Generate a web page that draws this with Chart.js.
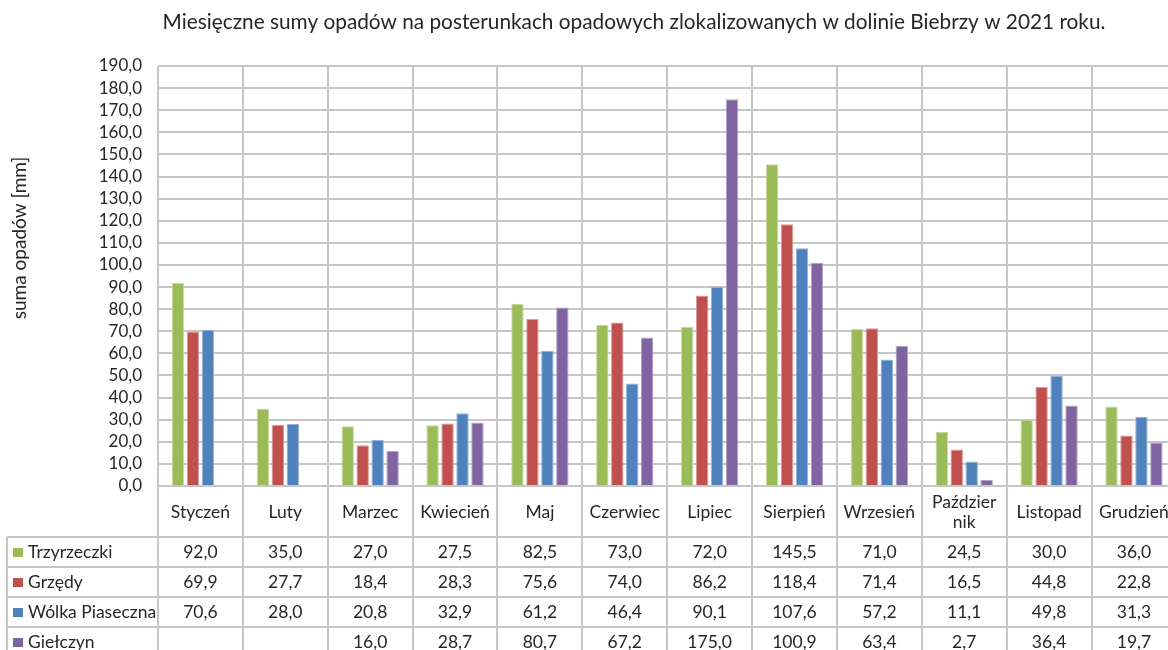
<!DOCTYPE html>
<html>
<head>
<meta charset="utf-8">
<script src="https://cdn.jsdelivr.net/npm/chart.js@4/dist/chart.umd.min.js"></script>
<style>
  html, body { margin: 0; padding: 0; overflow: hidden; background: #fff; }
  #wrap { width: 1185px; height: 650px; position: relative; }
</style>
</head>
<body>
<div id="wrap"><canvas id="c"></canvas></div>
<script>
// Monthly precipitation totals (mm), Biebrza valley gauges, 2021
const months = ['Styczeń', 'Luty', 'Marzec', 'Kwiecień', 'Maj', 'Czerwiec', 'Lipiec',
  'Sierpień', 'Wrzesień', ['Paździer', 'nik'], 'Listopad', 'Grudzień'];
const stations = ['Trzyrzeczki', 'Grzędy', 'Wólka Piaseczna', 'Giełczyn'];
const trzyrzeczki = [92.0, 35.0, 27.0, 27.5, 82.5, 73.0, 72.0, 145.5, 71.0, 24.5, 30.0, 36.0];
const grzedy      = [69.9, 27.7, 18.4, 28.3, 75.6, 74.0, 86.2, 118.4, 71.4, 16.5, 44.8, 22.8];
const wolka       = [70.6, 28.0, 20.8, 32.9, 61.2, 46.4, 90.1, 107.6, 57.2, 11.1, 49.8, 31.3];
const gielczyn    = [null, null, 16.0, 28.7, 80.7, 67.2, 175.0, 100.9, 63.4, 2.7, 36.4, 19.7];
const yTicks = { min: 0, max: 190, step: 10 };

const titleText = 'Miesięczne sumy opadów na posterunkach opadowych zlokalizowanych w dolinie Biebrzy w 2021 roku.';
const yTitleText = 'suma opadów [mm]';

const seriesValues = [trzyrzeczki, grzedy, wolka, gielczyn];
const seriesColors = ['#9BBB59', '#C0504D', '#4F81BD', '#8064A2'];
const seriesEdges  = ['#C9DBA6', '#DB9A98', '#97B3D9', '#B3A2C8'];

const FONT = 'Lato, "Open Sans", sans-serif';
const TEXT = '#262626';
const GRID = '#C6C6C6';

const fmt = v => (v === null || v === undefined) ? '' : v.toFixed(1).replace('.', ',');

// Title, vertical axis title and the data table under the plot
const tablePlugin = {
  id: 'dataTable',
  afterDraw(chart) {
    const { ctx, chartArea: a, scales: { x } } = chart;
    const H = chart.height;
    const labelRowBottom = a.bottom + 51;
    const rowH = 30;
    const tableLeft = 7;
    const n = months.length;
    const catW = (x.getPixelForValue(1) - x.getPixelForValue(0));
    ctx.save();

    // chart title
    ctx.fillStyle = TEXT;
    ctx.font = '20.8px ' + FONT;
    ctx.textAlign = 'center';
    ctx.textBaseline = 'middle';
    ctx.fillText(titleText, 634, 22);

    // vertical axis title
    ctx.save();
    ctx.translate(20, 238);
    ctx.rotate(-Math.PI / 2);
    ctx.font = '19px ' + FONT;
    ctx.fillText(yTitleText, 0, 0);
    ctx.restore();

    // grid of the table
    ctx.strokeStyle = GRID;
    ctx.lineWidth = 2;
    ctx.beginPath();
    for (let i = 0; i <= n; i++) {
      const px = Math.round(x.getPixelForValue(i) - catW / 2);
      ctx.moveTo(px, a.bottom);
      ctx.lineTo(px, H);
    }
    ctx.moveTo(tableLeft, labelRowBottom);
    ctx.lineTo(tableLeft, H);
    for (let r = 0; r < stations.length; r++) {
      const py = Math.round(labelRowBottom + r * rowH);
      ctx.moveTo(tableLeft, py);
      ctx.lineTo(a.right, py);
    }
    ctx.stroke();

    // rows: legend key, station name, values
    ctx.font = '17.5px ' + FONT;
    for (let r = 0; r < stations.length; r++) {
      const cy = labelRowBottom + r * rowH + rowH / 2;
      ctx.fillStyle = seriesColors[r];
      ctx.fillRect(13, Math.round(cy - 4.5), 10, 9);
      ctx.fillStyle = TEXT;
      ctx.textAlign = 'left';
      ctx.fillText(stations[r], 28, cy);
      ctx.textAlign = 'center';
      seriesValues[r].forEach((v, i) => {
        ctx.fillText(fmt(v), x.getPixelForValue(i), cy);
      });
    }
    ctx.restore();
  }
};

const chart = new Chart(document.getElementById('c'), {
  type: 'bar',
  data: {
    labels: months,
    datasets: stations.map((s, k) => ({
      label: s,
      data: seriesValues[k],
      backgroundColor: seriesColors[k],
      borderColor: seriesEdges[k],
      borderWidth: { top: 1, left: 1, right: 1, bottom: 0 },
      categoryPercentage: 0.705,
      barPercentage: 0.83
    }))
  },
  options: {
    responsive: true,
    maintainAspectRatio: false,
    animation: false,
    devicePixelRatio: 1,
    layout: { padding: { top: 66, left: 0, right: 5, bottom: 0 } },
    plugins: {
      legend: { display: false },
      title: { display: false },
      tooltip: { enabled: false }
    },
    scales: {
      x: {
        grid: { color: GRID, lineWidth: 2, drawTicks: false, offset: true },
        border: { display: false },
        ticks: {
          color: TEXT,
          font: { family: FONT, size: 17.5, lineHeight: 1.15 },
          padding: 16,
          crossAlign: 'center',
          maxRotation: 0,
          autoSkip: false
        },
        afterFit: s => { s.height = 164; }
      },
      y: {
        min: yTicks.min,
        max: yTicks.max,
        grid: { color: GRID, lineWidth: 2, drawTicks: false },
        border: { display: false },
        ticks: {
          stepSize: yTicks.step,
          autoSkip: false,
          color: TEXT,
          font: { family: FONT, size: 17 },
          padding: 16,
          callback: v => fmt(v)
        },
        afterFit: s => { s.width = 158; }
      }
    }
  },
  plugins: [tablePlugin]
});
</script>
</body>
</html>
